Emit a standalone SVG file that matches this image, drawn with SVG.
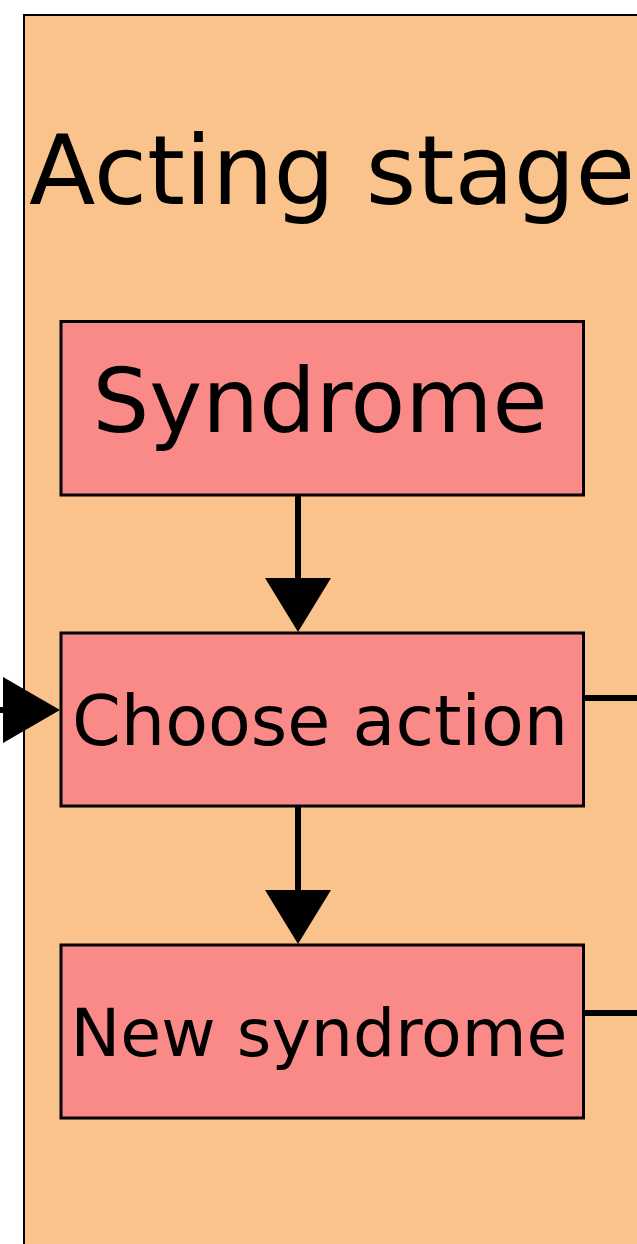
<svg xmlns="http://www.w3.org/2000/svg" width="637" height="1244" viewBox="0 0 637 1244">
  <style>
    .stage { fill: #F9C38B; stroke: #000; stroke-width: 2; }
    .node rect { fill: #FA8A88; stroke: #000; stroke-width: 3; }
    .label { font-family: "DejaVu Sans", Verdana, sans-serif; fill: #000; text-anchor: middle; }
    .edge { stroke: #000; stroke-width: 6; fill: none; }
    .head { fill: #000; }
  </style>

  <!-- Stage container (continues past the right and bottom edges) -->
  <g id="acting-stage">
    <rect class="stage" x="24" y="15" width="700" height="1300"/>
    <text class="label" x="29" y="204" font-size="97" style="text-anchor:start">Acting stage</text>
  </g>

  <g id="syndrome" class="node">
    <rect x="61" y="321.5" width="522.5" height="173.5"/>
    <text class="label" x="320" y="432" font-size="89.5">Syndrome</text>
  </g>

  <g id="choose-action" class="node">
    <rect x="61" y="633" width="522.5" height="173"/>
    <text class="label" x="320" y="745" font-size="70">Choose action</text>
  </g>

  <g id="new-syndrome" class="node">
    <rect x="61" y="945" width="522.5" height="173"/>
    <text class="label" x="319" y="1056" font-size="66.5">New syndrome</text>
  </g>

  <g id="connectors">
    <!-- Syndrome -> Choose action -->
    <line class="edge" x1="298" y1="496" x2="298" y2="580"/>
    <polygon class="head" points="265,578 331,578 298,632"/>
    <!-- Choose action -> New syndrome -->
    <line class="edge" x1="298" y1="807" x2="298" y2="892"/>
    <polygon class="head" points="265,890 331,890 298,944"/>
    <!-- incoming from the left -> Choose action -->
    <line class="edge" x1="0" y1="710" x2="6" y2="710"/>
    <polygon class="head" points="3,677 3,743 60,710"/>
    <!-- outgoing to the right -->
    <line class="edge" x1="584" y1="698" x2="637" y2="698"/>
    <line class="edge" x1="584" y1="1013" x2="637" y2="1013"/>
  </g>
</svg>
